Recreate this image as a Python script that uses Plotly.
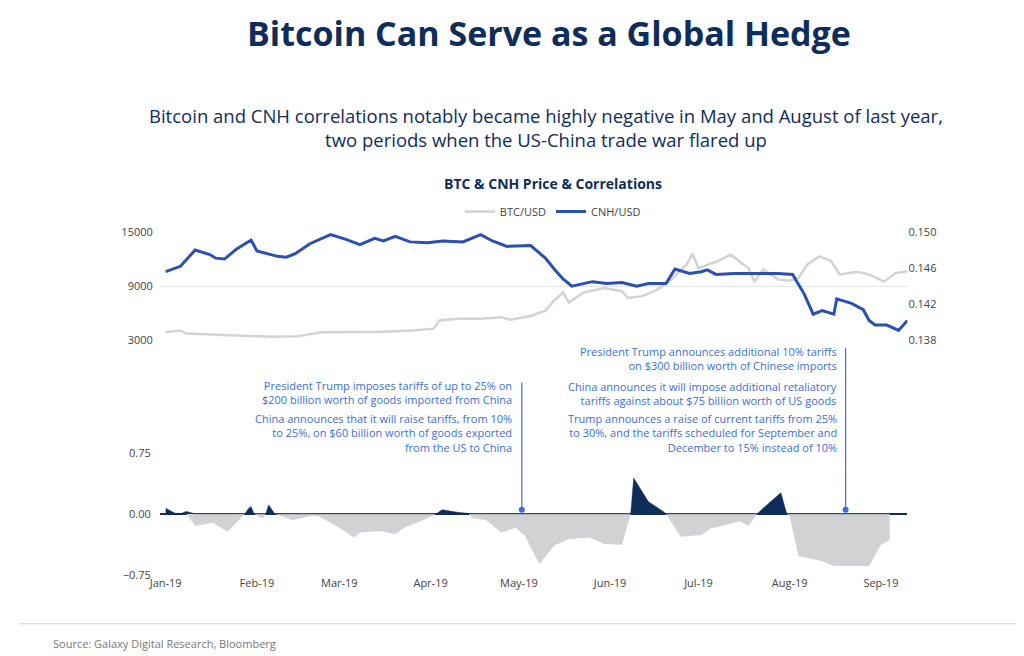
import pandas as pd
import plotly.graph_objects as go

base = pd.Timestamp("2019-01-01")
cnh_day = [0,5,10,15,17,20,24,29,31,38,41,44,49,56,61,66,71,74,78,83,89,94,101,107,111,116,124,129,132,135,138,145,150,155,160,164,170,173,178,182,184,187,193,200,208,213,217,220,223,227,228,233,237,239,241,245,249,252]
cnh_val = [0.1456,0.1462,0.1480,0.1475,0.1471,0.1470,0.1481,0.1491,0.1479,0.1473,0.1472,0.1476,0.1487,0.1497,0.1492,0.1486,0.1493,0.1490,0.1495,0.1489,0.1488,0.1490,0.1489,0.1497,0.1490,0.1484,0.1485,0.1471,0.1459,0.1448,0.1440,0.1445,0.1443,0.1444,0.1440,0.1443,0.1443,0.1459,0.1454,0.1456,0.1458,0.1453,0.1454,0.1454,0.1454,0.1453,0.1431,0.1409,0.1413,0.1409,0.1426,0.1421,0.1414,0.1402,0.1397,0.1397,0.1391,0.1402]
btc_day = [0,5,7,20,28,36,45,53,61,74,84,91,93,99,107,114,117,124,129,132,135,137,142,149,155,157,162,167,172,177,179,181,187,192,195,198,200,203,208,212,215,218,222,226,229,235,239,244,248,252]
btc_val = [3900,4100,3760,3550,3500,3400,3450,3900,3900,3950,4100,4300,5200,5400,5400,5550,5300,5700,6300,7400,8300,7200,8300,8800,8450,7700,7900,8600,9800,11400,12600,11000,11700,12500,11700,11000,9500,10850,9750,9600,9900,11400,12300,11800,10300,10600,10300,9500,10450,10640]
cor_day = [0,3,5,7,10,16,21,25,27,28,29,30,33,34,35,36,37,38,43,50,52,58,64,66,73,78,81,88,92,93,94,99,103,104,109,114,119,122,127,132,137,144,149,155,158,159,164,169,170,175,182,185,189,195,198,201,203,209,211,212,215,223,227,239,243,246]
cor_val = [0.07,0.01,0.0,0.03,-0.15,-0.11,-0.22,-0.07,0.0,0.06,0.09,0.0,-0.06,0.0,0.11,0.05,0.0,-0.01,-0.08,-0.02,-0.03,-0.15,-0.29,-0.23,-0.21,-0.25,-0.17,-0.07,0.0,0.03,0.05,0.02,0.0,-0.05,-0.08,-0.23,-0.17,-0.27,-0.62,-0.39,-0.31,-0.29,-0.37,-0.38,0.0,0.44,0.15,0.03,0.0,-0.28,-0.26,-0.18,-0.15,-0.09,-0.15,0.0,0.07,0.26,0.0,-0.03,-0.52,-0.58,-0.64,-0.64,-0.38,-0.32]
event_day = [121, 231]

d = lambda days: [base + pd.Timedelta(days=x) for x in days]
navy = "#0f2d5a"; blue = "#2a4fb5"; ablue = "#3a6fd6"
P = lambda py: 1 - py / 656

fig = go.Figure()
fig.add_trace(go.Scatter(x=d(btc_day), y=btc_val, name="BTC/USD", mode="lines",
                         line=dict(color="#d3d3d3", width=2.5), xaxis="x", yaxis="y"))
fig.add_trace(go.Scatter(x=d(cnh_day), y=cnh_val, name="CNH/USD", mode="lines",
                         line=dict(color=blue, width=3), xaxis="x", yaxis="y2"))
fig.add_trace(go.Scatter(x=d(cor_day), y=[min(0, v) for v in cor_val], mode="lines", fill="tozeroy",
                         fillcolor="#d2d2d4", line=dict(width=0, color="#d2d2d4"), showlegend=False,
                         xaxis="x2", yaxis="y3"))
fig.add_trace(go.Scatter(x=d(cor_day), y=[max(0, v) for v in cor_val], mode="lines", fill="tozeroy",
                         fillcolor=navy, line=dict(width=0.5, color=navy), showlegend=False,
                         xaxis="x2", yaxis="y3"))
fig.add_trace(go.Scatter(x=d(event_day), y=[0.05, 0.05], mode="markers", marker=dict(color=ablue, size=6),
                         showlegend=False, xaxis="x2", yaxis="y3"))

xr = [base - pd.Timedelta(days=2), base + pd.Timedelta(days=252)]
tf = dict(size=11, color="#444", family="Open Sans")
dom = [0.139, 0.877]
fig.update_layout(
    width=1024, height=656, margin=dict(l=0, r=0, t=0, b=0),
    paper_bgcolor="white", plot_bgcolor="white", font=dict(family="Open Sans"),
    xaxis=dict(domain=dom, range=xr, showticklabels=False, showgrid=False, anchor="y"),
    yaxis=dict(domain=[P(332), P(221)], range=[3000, 15000], tickvals=[3000, 9000, 15000], tickformat="d",
               gridcolor="#e6e6e6", tickfont=tf, zeroline=False, ticklabelstandoff=6),
    yaxis2=dict(overlaying="y", side="right", range=[0.138, 0.150], tickvals=[0.138, 0.142, 0.146, 0.150],
                tickformat=".3f", showgrid=False, tickfont=tf),
    xaxis2=dict(domain=dom, range=xr, anchor="y3", tickformat="%b-%y", dtick="M1",
                showgrid=False, tickfont=tf, ticks=""),
    yaxis3=dict(domain=[P(572), P(447)], range=[-0.75, 0.75], tickvals=[-0.75, 0, 0.75], tickformat=".2f",
                gridcolor="#e6e6e6", tickfont=tf, zeroline=True, zerolinecolor=navy, zerolinewidth=2,
                ticklabelstandoff=8),
    legend=dict(orientation="h", x=0.527, xanchor="center", y=P(200), yanchor="middle",
                font=dict(size=11, color="#444")),
)
ann = [
    dict(text="<b>Bitcoin Can Serve as a Global Hedge</b>", x=0.523, y=P(17), size=34, color=navy, xa="center"),
    dict(text="Bitcoin and CNH correlations notably became highly negative in May and August of last year,<br>two periods when the US-China trade war flared up",
         x=0.52, y=P(114), size=18.5, color=navy, xa="center"),
    dict(text="<b>BTC & CNH Price & Correlations</b>", x=0.527, y=P(171), size=14, color=navy, xa="center"),
    dict(text="President Trump imposes tariffs of up to 25% on<br>$200 billion worth of goods imported from China",
         x=500/1024, y=P(385), size=11, color=ablue, xa="right"),
    dict(text="China announces that it will raise tariffs, from 10%<br>to 25%, on $60 billion worth of goods exported<br>from the US to China",
         x=500/1024, y=P(427), size=11, color=ablue, xa="right"),
    dict(text="President Trump announces additional 10% tariffs<br>on $300 billion worth of Chinese imports",
         x=829/1024, y=P(351), size=11, color=ablue, xa="right"),
    dict(text="China announces it will impose additional retaliatory<br>tariffs against about $75 billion worth of US goods",
         x=829/1024, y=P(386), size=11, color=ablue, xa="right"),
    dict(text="Trump announces a raise of current tariffs from 25%<br>to 30%, and the tariffs scheduled for September and<br>December to 15% instead of 10%",
         x=829/1024, y=P(427), size=11, color=ablue, xa="right"),
    dict(text="Source: Galaxy Digital Research, Bloomberg", x=32/1024, y=P(642), size=11, color="#777", xa="left"),
]
for a in ann:
    fig.add_annotation(text=a["text"], x=a["x"], y=a["y"], xref="paper", yref="paper", showarrow=False,
                       xanchor=a["xa"], yanchor="middle", align=a["xa"],
                       font=dict(size=a["size"], color=a["color"], family="Open Sans"))
for day, top in zip(event_day, [375, 340]):
    xd = base + pd.Timedelta(days=day)
    fig.add_shape(type="line", x0=xd, x1=xd, xref="x2", yref="paper", y0=P(top), y1=P(505),
                  line=dict(color=ablue, width=1.2))
fig.add_shape(type="line", xref="paper", yref="paper", x0=0, x1=1, y0=P(622), y1=P(622),
              line=dict(color="#cfcfcf", width=1))
fig.write_html("out.html")
